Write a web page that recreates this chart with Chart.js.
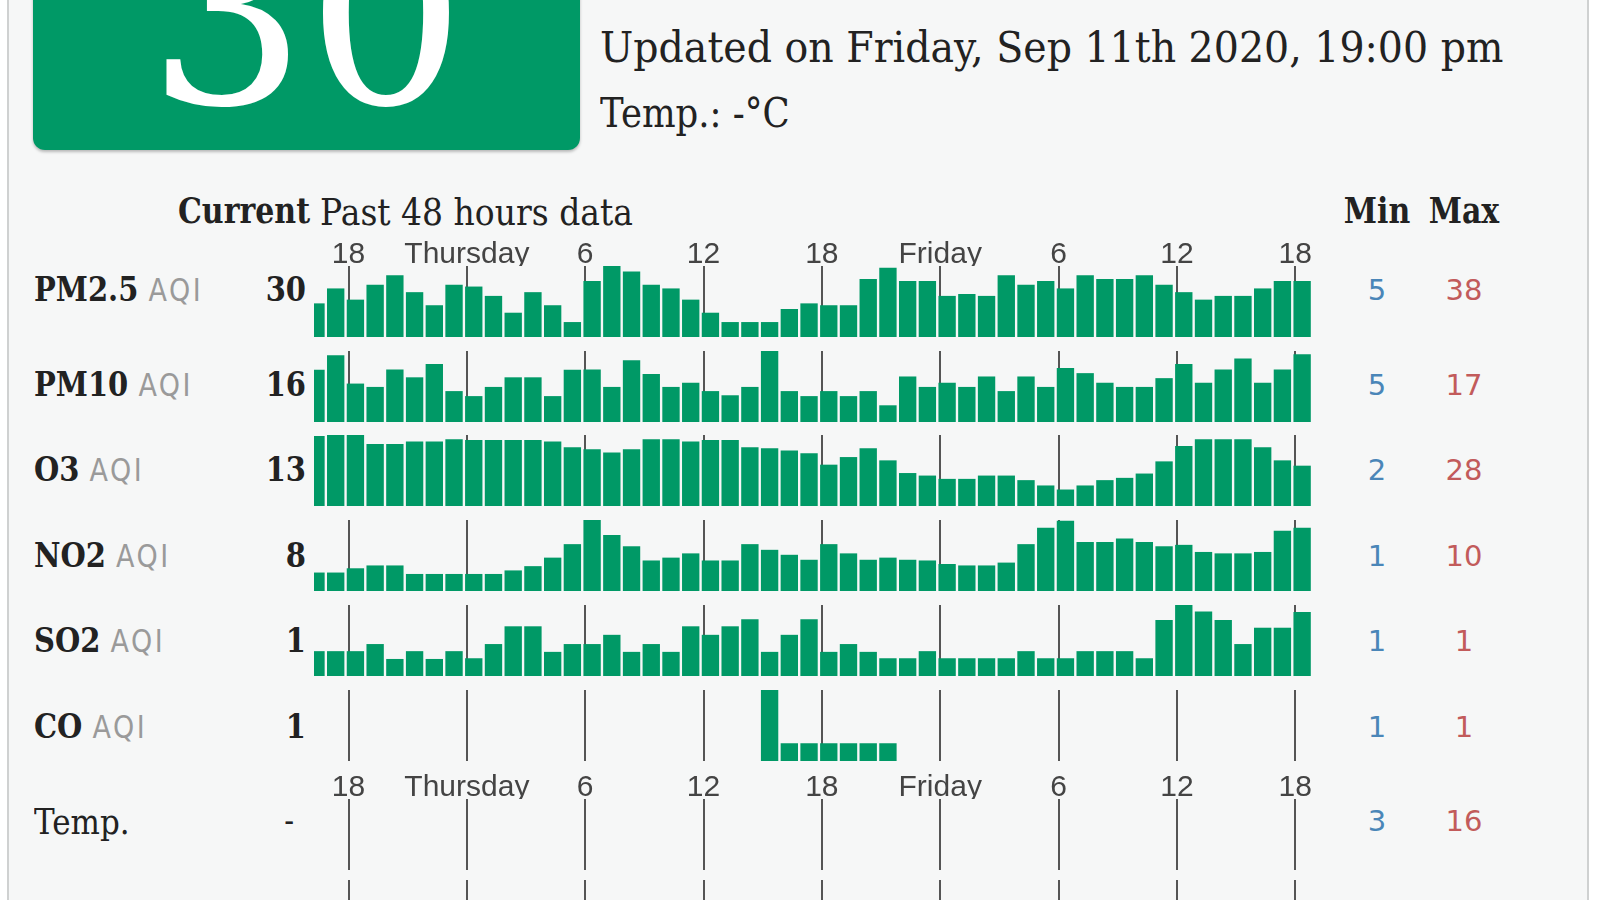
<!DOCTYPE html>
<html>
<head>
<meta charset="utf-8">
<script src="https://cdn.jsdelivr.net/npm/chart.js@4/dist/chart.umd.min.js"></script>
<style>
html, body { margin: 0; padding: 0; background: #fff; }
body { width: 1600px; height: 900px; overflow: hidden; position: relative; font-family: 'DejaVu Serif', serif; color: #222; }
#card { position: absolute; left: 7px; top: -10px; width: 1578px; height: 930px; background: #f6f7f7; border-left: 2px solid #cfd1d1; border-right: 2px solid #cfd1d1; }
.t { position: absolute; white-space: nowrap; line-height: 1; }
.st { transform: scaleY(1.15); transform-origin: center; }
#aqiBox { position: absolute; left: 33px; top: -30px; width: 547px; height: 180px; background: #009966; border-radius: 12px; box-shadow: 0 2px 3px rgba(0,0,0,0.25); }
#bigNum { left: 33px; width: 547px; text-align: center; top: -108px; font-size: 250px; color: #fff; }
.lbl { left: 34px; font-size: 29px; font-weight: bold; }
.lbl span { font-family: 'DejaVu Sans', sans-serif; font-weight: normal; font-size: 27px; letter-spacing: 2.5px; color: #9a9a9a; }
.cur { right: 1294px; font-size: 29px; font-weight: bold; text-align: right; }
.mm { width: 100px; text-align: center; font-family: 'DejaVu Sans', sans-serif; font-size: 29px; }
.mn { left: 1327px; color: #4a86b8; }
.mx { left: 1414px; color: #c25b5b; }
canvas { position: absolute; left: 314px; }
</style>
</head>
<body>
<div id="card"></div>
<div id="aqiBox"></div>
<div id="bigNum" class="t">30</div>
<div class="t" style="left:600px; top:28px; font-size:39.5px; transform:scaleY(1.1); transform-origin:center;">Updated on Friday, Sep 11th 2020, 19:00 pm</div>
<div class="t" style="left:600px; top:95px; font-size:35.5px; transform:scaleY(1.15); transform-origin:center;">Temp.: -°C</div>

<div class="t st" style="right:1290px; top:196px; font-size:30px; font-weight:bold;">Current</div>
<div class="t st" style="left:320px; top:195px; font-size:33px;">Past 48 hours data</div>
<div class="t st" style="left:1327px; width:100px; text-align:center; top:196px; font-size:30px; font-weight:bold;">Min</div>
<div class="t st" style="left:1414px; width:100px; text-align:center; top:196px; font-size:30px; font-weight:bold;">Max</div>

<div id="labels"></div>

<canvas id="row0" width="997" height="101" style="top:236px"></canvas>
<canvas id="row1" width="997" height="71" style="top:351px"></canvas>
<canvas id="row2" width="997" height="71" style="top:435px"></canvas>
<canvas id="row3" width="997" height="71" style="top:520px"></canvas>
<canvas id="row4" width="997" height="71" style="top:605px"></canvas>
<canvas id="row5" width="997" height="71" style="top:690px"></canvas>
<canvas id="row6" width="997" height="101" style="top:769px"></canvas>
<canvas id="row7" width="997" height="71" style="top:880px"></canvas>

<script>
// first bar = Wednesday 16:00, one bar per hour up to Friday 18:00
const startHour = 16;
const tickHours = [18, 24, 30, 36, 42, 48, 54, 60, 66];
const tickLabels = ['18', 'Thursday', '6', '12', '18', 'Friday', '6', '12', '18'];

const rowNames = ['PM2.5', 'PM10', 'O3', 'NO2', 'SO2', 'CO'];
const currentValues = ['30', '16', '13', '8', '1', '1'];
const minValues = [5, 5, 2, 1, 1, 1];
const maxValues = [38, 17, 28, 10, 1, 1];
const rowCenters = [290, 385, 470, 556, 641, 727];

const tempCurrent = '-';
const tempMin = 3;
const tempMax = 16;

const pm25 = [18, 26, 20, 28, 33, 24, 17, 28, 27, 22,
  13, 24, 17, 8, 30, 38, 35, 28, 26, 20,
  13, 8, 8, 8, 15, 18, 17, 17, 31, 37,
  30, 30, 22, 23, 22, 33, 28, 30, 26, 33,
  31, 31, 33, 28, 24, 20, 22, 22, 26, 30,
  30];
const pm10 = [12.5, 16, 9.2, 8.4, 12.6, 10.7, 13.9, 7.4, 6.2, 8.4,
  10.7, 10.7, 6.2, 12.5, 12.6, 8.4, 14.8, 11.5, 8.4, 9.4,
  7.4, 6.4, 8.4, 17, 7.4, 6.2, 7.4, 6.2, 7.4, 4,
  10.9, 8.4, 9.4, 8.4, 10.9, 7.4, 10.9, 8.4, 12.9, 11.7,
  9.4, 8.4, 8.4, 10.5, 13.9, 9.4, 12.6, 15.2, 9.4, 12.6,
  16.2];
const o3 = [27.6, 28, 28, 24.5, 24.5, 25.4, 25.4, 26.3, 26, 26,
  26, 26, 25.4, 23.2, 22.4, 21.1, 22.4, 26.3, 26.3, 25.4,
  26, 26, 23.2, 22.8, 21.9, 20.8, 16.3, 19.3, 22.8, 18,
  13, 12, 10.7, 10.7, 12, 12, 10.2, 8.1, 6.5, 8.1,
  10.2, 11.1, 12.8, 17.6, 23.7, 26.3, 26.3, 26.3, 23.2, 18,
  15.9];
const no2 = [2.6, 2.6, 3.2, 3.6, 3.6, 2.4, 2.4, 2.4, 2.4, 2.4,
  2.9, 3.5, 4.7, 6.6, 10, 7.9, 6.3, 4.3, 4.7, 5.3,
  4.3, 4.3, 6.6, 5.8, 5.1, 4.4, 6.6, 5.3, 4.4, 4.7,
  4.4, 4.3, 3.8, 3.6, 3.6, 4, 6.6, 8.9, 9.9, 6.9,
  6.9, 7.4, 6.9, 6.3, 6.5, 5.5, 5.3, 5.3, 5.5, 8.5,
  8.9];
const so2 = [0.35, 0.35, 0.35, 0.45, 0.24, 0.35, 0.24, 0.35, 0.25, 0.45,
  0.70, 0.70, 0.34, 0.45, 0.45, 0.58, 0.34, 0.45, 0.34, 0.70,
  0.58, 0.70, 0.80, 0.34, 0.58, 0.80, 0.34, 0.45, 0.34, 0.25,
  0.25, 0.35, 0.25, 0.25, 0.25, 0.25, 0.35, 0.25, 0.25, 0.35,
  0.35, 0.35, 0.25, 0.79, 1.0, 0.91, 0.79, 0.45, 0.68, 0.68,
  0.90];
const co = [null, null, null, null, null, null, null, null, null, null,
  null, null, null, null, null, null, null, null, null, null,
  null, null, null, 1, 0.25, 0.25, 0.25, 0.25, 0.25, 0.25,
  null, null, null, null, null, null, null, null, null, null,
  null, null, null, null, null, null, null, null, null, null,
  null];
const temp = [];

// text column: names, current value, min, max
const labelsDiv = document.getElementById('labels');
rowNames.forEach((name, i) => {
  const top = rowCenters[i] - 14;
  labelsDiv.innerHTML +=
    `<div class="t st lbl" style="top:${top}px">${name} <span>AQI</span></div>` +
    `<div class="t st cur" style="top:${top}px">${currentValues[i]}</div>` +
    `<div class="t mm mn" style="top:${top}px">${minValues[i]}</div>` +
    `<div class="t mm mx" style="top:${top}px">${maxValues[i]}</div>`;
});
labelsDiv.innerHTML +=
  `<div class="t st" style="left:34px; top:806px; font-size:31px;">Temp.</div>` +
  `<div class="t st" style="right:1306px; top:807px; font-size:29px;">${tempCurrent}</div>` +
  `<div class="t mm mn" style="top:807px">${tempMin}</div>` +
  `<div class="t mm mx" style="top:807px">${tempMax}</div>`;

function makeRow(canvasId, values, withLabels) {
  const ctx = document.getElementById(canvasId).getContext('2d');
  const nums = values.filter(v => v !== null);
  return new Chart(ctx, {
    type: 'bar',
    data: {
      datasets: [{
        // bar for hour h sits just right of the hour line, covering it
        data: values.map((v, i) => ({ x: startHour + i + 0.35, y: v })),
        backgroundColor: '#009966',
        barPercentage: 0.88,
        categoryPercentage: 1,
        clip: 0
      }]
    },
    options: {
      responsive: false,
      animation: false,
      layout: { padding: 0 },
      plugins: { legend: { display: false }, tooltip: { enabled: false } },
      scales: {
        x: {
          type: 'linear',
          position: 'top',
          offset: false,
          min: 16.25,
          max: 66.8,
          afterBuildTicks: s => { s.ticks = tickHours.map(v => ({ value: v })); },
          afterFit: s => { s.height = withLabels ? 30 : 0; },
          grid: { offset: false, color: '#555', lineWidth: 2, drawTicks: false },
          border: { display: false },
          ticks: {
            display: withLabels,
            autoSkip: false,
            maxRotation: 0,
            minRotation: 0,
            padding: -7,
            color: '#444',
            font: { family: 'Liberation Sans', size: 30 },
            callback: (v, i) => tickLabels[i]
          }
        },
        y: { display: false, min: 0, max: nums.length ? Math.max(...nums) : 1 }
      }
    }
  });
}

makeRow('row0', pm25, true);
makeRow('row1', pm10, false);
makeRow('row2', o3, false);
makeRow('row3', no2, false);
makeRow('row4', so2, false);
makeRow('row5', co, false);
makeRow('row6', temp, true);
makeRow('row7', temp, false);
</script>
</body>
</html>
